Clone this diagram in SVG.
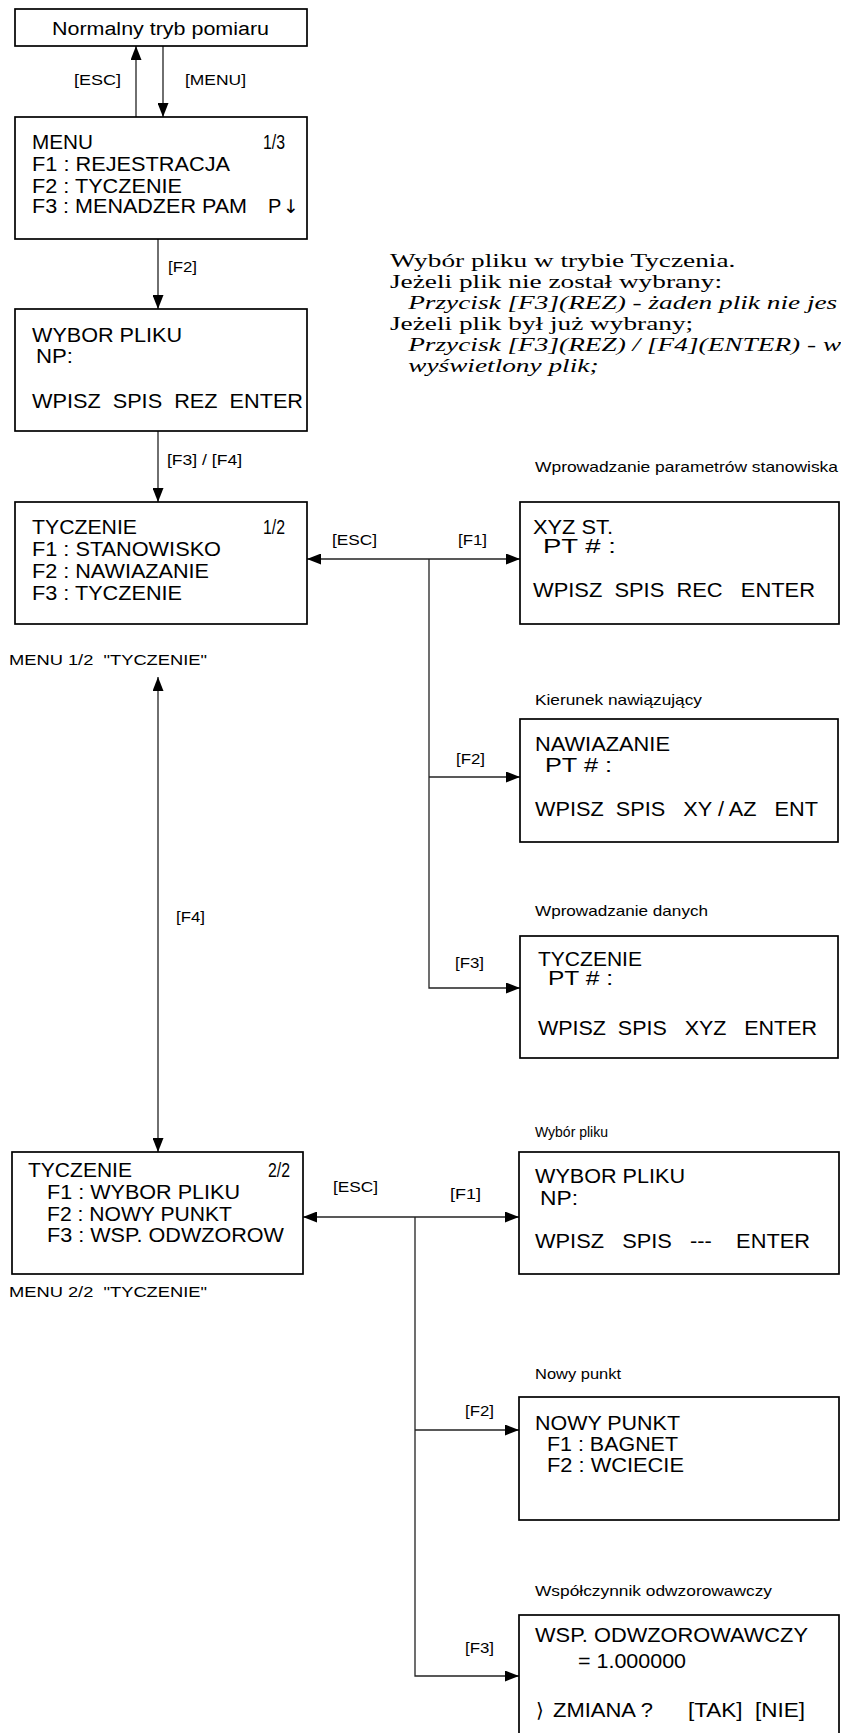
<svg xmlns="http://www.w3.org/2000/svg" width="841" height="1733" viewBox="0 0 841 1733">
<style>
text{white-space:pre;fill:#000}
.s{font-family:"Liberation Sans",Arial,sans-serif}
.b{font-size:20px}
.l{font-size:14.5px}
.t{font-size:18px}
.serif{font-family:"Liberation Serif","Times New Roman",serif;font-size:19.5px}
.it{font-style:italic}
.box{fill:#fff;stroke:#000;stroke-width:1.7}
.c{fill:none;stroke:#222;stroke-width:1.3}
</style>
<defs>
<marker id="ah" markerUnits="userSpaceOnUse" markerWidth="14" markerHeight="11" refX="14" refY="5.5" orient="auto-start-reverse">
<path d="M0,0 L14,5.5 L0,11 z" fill="#000"/>
</marker>
</defs>

<g id="connectors">
<line class="c" x1="136" y1="117" x2="136" y2="46" marker-end="url(#ah)"/>
<line class="c" x1="163" y1="46" x2="163" y2="117" marker-end="url(#ah)"/>
<line class="c" x1="158" y1="239" x2="158" y2="309" marker-end="url(#ah)"/>
<line class="c" x1="158" y1="431" x2="158" y2="502" marker-end="url(#ah)"/>
<line class="c" x1="307" y1="559" x2="520" y2="559" marker-start="url(#ah)" marker-end="url(#ah)"/>
<polyline class="c" points="429,559 429,988 520,988" marker-end="url(#ah)"/>
<line class="c" x1="429" y1="777" x2="520" y2="777" marker-end="url(#ah)"/>
<line class="c" x1="158" y1="677" x2="158" y2="1152" marker-start="url(#ah)" marker-end="url(#ah)"/>
<line class="c" x1="303" y1="1217" x2="519" y2="1217" marker-start="url(#ah)" marker-end="url(#ah)"/>
<polyline class="c" points="415,1217 415,1676 519,1676" marker-end="url(#ah)"/>
<line class="c" x1="415" y1="1430" x2="519" y2="1430" marker-end="url(#ah)"/>
<g class="s l">
<text x="74" y="85" textLength="47" lengthAdjust="spacingAndGlyphs">[ESC]</text>
<text x="185" y="85" textLength="61" lengthAdjust="spacingAndGlyphs">[MENU]</text>
<text x="168" y="272" textLength="29" lengthAdjust="spacingAndGlyphs">[F2]</text>
<text x="167" y="465" textLength="75" lengthAdjust="spacingAndGlyphs">[F3] / [F4]</text>
<text x="332" y="545" textLength="45" lengthAdjust="spacingAndGlyphs">[ESC]</text>
<text x="458" y="545" textLength="29" lengthAdjust="spacingAndGlyphs">[F1]</text>
<text x="456" y="764" textLength="29" lengthAdjust="spacingAndGlyphs">[F2]</text>
<text x="455" y="968" textLength="29" lengthAdjust="spacingAndGlyphs">[F3]</text>
<text x="176" y="922" textLength="29" lengthAdjust="spacingAndGlyphs">[F4]</text>
<text x="333" y="1192" textLength="45" lengthAdjust="spacingAndGlyphs">[ESC]</text>
<text x="450" y="1199" textLength="31" lengthAdjust="spacingAndGlyphs">[F1]</text>
<text x="465" y="1416" textLength="29" lengthAdjust="spacingAndGlyphs">[F2]</text>
<text x="465" y="1653" textLength="29" lengthAdjust="spacingAndGlyphs">[F3]</text>
</g>
</g>

<g id="n-normal">
<rect class="box" x="15" y="9" width="292" height="37"/>
<text class="s t" x="52" y="35" textLength="217" lengthAdjust="spacingAndGlyphs">Normalny tryb pomiaru</text>
</g>

<g id="n-menu" class="s b">
<rect class="box" x="15" y="117" width="292" height="122"/>
<text x="32" y="149" textLength="61" lengthAdjust="spacingAndGlyphs">MENU</text>
<text x="263" y="149" textLength="22" lengthAdjust="spacingAndGlyphs">1/3</text>
<text x="32" y="171" textLength="198" lengthAdjust="spacingAndGlyphs">F1 : REJESTRACJA</text>
<text x="32" y="193" textLength="150" lengthAdjust="spacingAndGlyphs">F2 : TYCZENIE</text>
<text x="32" y="213" textLength="215" lengthAdjust="spacingAndGlyphs">F3 : MENADZER PAM</text>
<text x="268" y="213">P</text>
<text x="283" y="213" style="font-family:'DejaVu Sans',sans-serif;font-size:19px">↓</text>
</g>

<g id="n-wybor1" class="s b">
<rect class="box" x="15" y="309" width="292" height="122"/>
<text x="32" y="342" textLength="150" lengthAdjust="spacingAndGlyphs">WYBOR PLIKU</text>
<text x="36" y="363" textLength="37" lengthAdjust="spacingAndGlyphs">NP:</text>
<text x="32" y="408" textLength="271" lengthAdjust="spacingAndGlyphs">WPISZ  SPIS  REZ  ENTER</text>
</g>

<g id="n-desc" transform="translate(390,0) scale(1.40,1)" class="serif">
<text x="0" y="267">Wybór pliku w trybie Tyczenia.</text>
<text x="0" y="288">Jeżeli plik nie został wybrany:</text>
<text class="it" x="13" y="309">Przycisk [F3](REZ) - żaden plik nie jes</text>
<text x="0" y="330">Jeżeli plik był już wybrany;</text>
<text class="it" x="13" y="351">Przycisk [F3](REZ) / [F4](ENTER) - w</text>
<text class="it" x="13" y="372">wyświetlony plik;</text>
</g>

<g id="n-tycz1" class="s b">
<rect class="box" x="15" y="502" width="292" height="122"/>
<text x="32" y="534" textLength="105" lengthAdjust="spacingAndGlyphs">TYCZENIE</text>
<text x="263" y="534" textLength="22" lengthAdjust="spacingAndGlyphs">1/2</text>
<text x="32" y="556" textLength="189" lengthAdjust="spacingAndGlyphs">F1 : STANOWISKO</text>
<text x="32" y="578" textLength="177" lengthAdjust="spacingAndGlyphs">F2 : NAWIAZANIE</text>
<text x="32" y="600" textLength="150" lengthAdjust="spacingAndGlyphs">F3 : TYCZENIE</text>
</g>
<text id="cap-menu12" class="s l" x="9" y="665" textLength="198" lengthAdjust="spacingAndGlyphs">MENU 1/2  "TYCZENIE"</text>

<g id="n-xyzst" class="s">
<text class="l" x="535" y="472" textLength="303" lengthAdjust="spacingAndGlyphs">Wprowadzanie parametrów stanowiska</text>
<rect class="box" x="520" y="502" width="319" height="122"/>
<text class="b" x="533" y="534" textLength="80" lengthAdjust="spacingAndGlyphs">XYZ ST.</text>
<text class="b" x="543" y="553" textLength="73" lengthAdjust="spacingAndGlyphs">PT # :</text>
<text class="b" x="533" y="597" textLength="282" lengthAdjust="spacingAndGlyphs">WPISZ  SPIS  REC   ENTER</text>
</g>

<g id="n-nawiaz" class="s">
<text class="l" x="535" y="705" textLength="167" lengthAdjust="spacingAndGlyphs">Kierunek nawiązujący</text>
<rect class="box" x="520" y="719" width="318" height="123"/>
<text class="b" x="535" y="751" textLength="135" lengthAdjust="spacingAndGlyphs">NAWIAZANIE</text>
<text class="b" x="545" y="772" textLength="67" lengthAdjust="spacingAndGlyphs">PT # :</text>
<text class="b" x="535" y="816" textLength="283" lengthAdjust="spacingAndGlyphs">WPISZ  SPIS   XY / AZ   ENT</text>
</g>

<g id="n-tycz-dane" class="s">
<text class="l" x="535" y="916" textLength="173" lengthAdjust="spacingAndGlyphs">Wprowadzanie danych</text>
<rect class="box" x="520" y="936" width="318" height="122"/>
<text class="b" x="538" y="966" textLength="104" lengthAdjust="spacingAndGlyphs">TYCZENIE</text>
<text class="b" x="548" y="985" textLength="65" lengthAdjust="spacingAndGlyphs">PT # :</text>
<text class="b" x="538" y="1035" textLength="279" lengthAdjust="spacingAndGlyphs">WPISZ  SPIS   XYZ   ENTER</text>
</g>

<g id="n-tycz2" class="s b">
<rect class="box" x="12" y="1152" width="291" height="122"/>
<text x="28" y="1177" textLength="104" lengthAdjust="spacingAndGlyphs">TYCZENIE</text>
<text x="268" y="1177" textLength="22" lengthAdjust="spacingAndGlyphs">2/2</text>
<text x="47" y="1199" textLength="193" lengthAdjust="spacingAndGlyphs">F1 : WYBOR PLIKU</text>
<text x="47" y="1221" textLength="185" lengthAdjust="spacingAndGlyphs">F2 : NOWY PUNKT</text>
<text x="47" y="1242" textLength="237" lengthAdjust="spacingAndGlyphs">F3 : WSP. ODWZOROW</text>
</g>
<text id="cap-menu22" class="s l" x="9" y="1297" textLength="198" lengthAdjust="spacingAndGlyphs">MENU 2/2  "TYCZENIE"</text>

<g id="n-wybor2" class="s">
<text class="l" x="535" y="1137" textLength="73" lengthAdjust="spacingAndGlyphs">Wybór pliku</text>
<rect class="box" x="519" y="1152" width="320" height="122"/>
<text class="b" x="535" y="1183" textLength="150" lengthAdjust="spacingAndGlyphs">WYBOR PLIKU</text>
<text class="b" x="540" y="1205" textLength="38" lengthAdjust="spacingAndGlyphs">NP:</text>
<text class="b" x="535" y="1248" textLength="275" lengthAdjust="spacingAndGlyphs">WPISZ   SPIS   ---    ENTER</text>
</g>

<g id="n-nowy" class="s">
<text class="l" x="535" y="1379" textLength="86" lengthAdjust="spacingAndGlyphs">Nowy punkt</text>
<rect class="box" x="519" y="1397" width="320" height="123"/>
<text class="b" x="535" y="1430" textLength="145" lengthAdjust="spacingAndGlyphs">NOWY PUNKT</text>
<text class="b" x="547" y="1451" textLength="131" lengthAdjust="spacingAndGlyphs">F1 : BAGNET</text>
<text class="b" x="547" y="1472" textLength="137" lengthAdjust="spacingAndGlyphs">F2 : WCIECIE</text>
</g>

<g id="n-wsp" class="s">
<text class="l" x="535" y="1596" textLength="237" lengthAdjust="spacingAndGlyphs">Współczynnik odwzorowawczy</text>
<rect class="box" x="519" y="1615" width="320" height="130"/>
<text class="b" x="535" y="1642" textLength="273" lengthAdjust="spacingAndGlyphs">WSP. ODWZOROWAWCZY</text>
<text class="b" x="578" y="1668" textLength="108" lengthAdjust="spacingAndGlyphs">= 1.000000</text>
<text class="b" x="536" y="1717" style="font-family:'DejaVu Sans',sans-serif">⟩</text>
<text class="b" x="553" y="1717" textLength="100" lengthAdjust="spacingAndGlyphs">ZMIANA ?</text>
<text class="b" x="688" y="1717" textLength="117" lengthAdjust="spacingAndGlyphs">[TAK]  [NIE]</text>
</g>
</svg>
